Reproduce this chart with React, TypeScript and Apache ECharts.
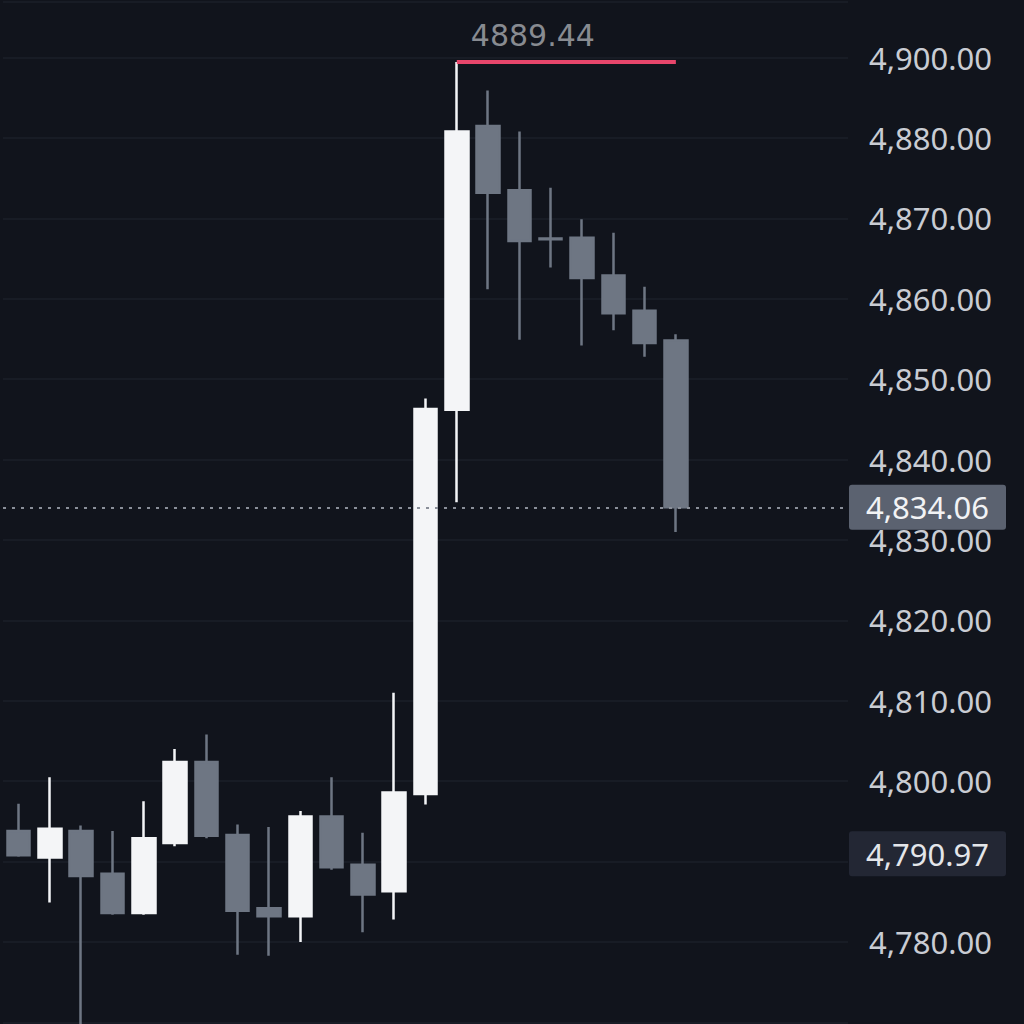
import React, { useEffect, useRef } from "react";
import * as echarts from "echarts";

// Candle categories (x axis is hidden in the reference)
const categories = [
  "09:30", "09:35", "09:40", "09:45", "09:50", "09:55", "10:00", "10:05",
  "10:10", "10:15", "10:20", "10:25", "10:30", "10:35", "10:40", "10:45",
  "10:50", "10:55", "11:00", "11:05", "11:10", "11:15",
];
// empty slots to the right of the last candle
const emptySlots = ["11:20", "11:25", "11:30", "11:35", "11:40"];

const opens = [
  4793.8, 4790.5, 4793.8, 4788.5, 4783.6, 4792.3, 4802.4, 4793.3, 4784.2, 4783.2, 4795.6,
  4789.6, 4786.3, 4798.4, 4846.2, 4881.5, 4873.5, 4867.5, 4867.6, 4862.9, 4858.5, 4854.8,
];
const closes = [
  4790.8, 4794.1, 4788.2, 4783.6, 4792.9, 4802.4, 4793.2, 4783.9, 4783.2, 4795.6, 4789.3,
  4785.9, 4798.6, 4846.3, 4880.8, 4873.2, 4867.2, 4867.4, 4862.6, 4858.2, 4854.5, 4834.06,
];
const lows = [
  4790.6, 4784.9, 4766.0, 4783.4, 4783.4, 4791.9, 4792.9, 4778.4, 4778.3, 4780.0, 4789.0,
  4781.2, 4782.8, 4797.1, 4834.7, 4861.2, 4854.9, 4863.9, 4854.2, 4856.1, 4852.8, 4831.0,
];
const highs = [
  4797.2, 4800.5, 4794.5, 4793.8, 4797.5, 4804.0, 4805.8, 4794.6, 4794.3, 4796.3, 4800.5,
  4793.6, 4811.0, 4847.6, 4889.44, 4885.9, 4880.8, 4873.8, 4869.9, 4868.2, 4861.5, 4855.6,
];

const refPrice = 4790.97;

// y axis tick labels as they appear on the reference
const tickValues = [4780, 4800, 4810, 4820, 4830, 4840, 4850, 4860, 4870, 4880, 4890];
const tickTexts = [
  "4,780.00", "4,800.00", "4,810.00", "4,820.00", "4,830.00", "4,840.00",
  "4,850.00", "4,860.00", "4,870.00", "4,880.00", "4,900.00",
];

const BG = "#11141c";
const UP = "#f4f5f7";
const DOWN = "#6e7683";
const LABEL_FONT = "Noto Sans";

const fmtPrice = (v: number) =>
  v.toLocaleString("en-US", { minimumFractionDigits: 2, maximumFractionDigits: 2 });

export default function App() {
  const ref = useRef<HTMLDivElement>(null);

  useEffect(() => {
    document.body.style.margin = "0";
    document.body.style.background = BG;
    if (!ref.current) return;
    const chart = echarts.init(ref.current, undefined, { renderer: "svg" });

    const ohlc = opens.map((o, i) => [o, closes[i], lows[i], highs[i]]);
    const maxHigh = Math.max(...highs);
    const maxIdx = highs.indexOf(maxHigh);
    const lastIdx = closes.length - 1;
    const lastClose = closes[lastIdx];

    const priceLabel = (bg: string, color: string, text: string) => ({
      show: true,
      position: "end",
      distance: 1,
      formatter: text,
      backgroundColor: bg,
      color,
      padding: [5, 17, 5, 17],
      fontSize: 31,
      lineHeight: 35,
      fontFamily: LABEL_FONT,
      borderRadius: 3,
    });

    const option = {
      backgroundColor: BG,
      animation: false,
      grid: { left: 3, right: 176, top: 1.3, bottom: 1.6, containLabel: false },
      xAxis: {
        type: "category",
        data: [...categories, ...emptySlots],
        boundaryGap: true,
        axisLine: { show: false },
        axisTick: { show: false },
        axisLabel: { show: false },
        splitLine: { show: false },
      },
      yAxis: {
        type: "value",
        position: "right",
        min: 4770,
        max: 4897,
        interval: 10,
        axisLine: { show: false },
        axisTick: { show: false },
        splitLine: { show: true, lineStyle: { color: "#1b1f29", width: 1.5 } },
        axisLabel: {
          margin: 21,
          color: "#c9ccd3",
          fontSize: 31,
          fontFamily: LABEL_FONT,
          formatter: (v: number) => {
            const i = tickValues.indexOf(Math.round(v));
            return i >= 0 && Math.abs(v - tickValues[i]) < 1e-6 ? tickTexts[i] : "";
          },
        },
      },
      series: [
        {
          type: "candlestick",
          data: ohlc,
          barWidth: 23,
          clip: true,
          itemStyle: {
            color: UP,
            color0: DOWN,
            borderColor: UP,
            borderColor0: DOWN,
            borderWidth: 2.5,
          },
          markLine: {
            silent: true,
            symbol: ["none", "none"],
            emphasis: { disabled: true },
            data: [
              [
                {
                  coord: [categories[maxIdx], maxHigh],
                  lineStyle: { color: "#e8466b", width: 4, type: "solid" },
                  label: {
                    show: true,
                    position: "insideStartTop",
                    distance: [14, 12],
                    formatter: maxHigh.toFixed(2),
                    color: "#888b91",
                    fontSize: 30,
                    fontFamily: "DejaVu Sans",
                  },
                },
                { coord: [categories[lastIdx], maxHigh] },
              ],
              {
                yAxis: lastClose,
                lineStyle: { color: "#8a8f99", width: 2, type: [3, 6] },
                label: priceLabel("#5b6270", "#f2f3f5", fmtPrice(lastClose)),
              },
              {
                yAxis: refPrice,
                lineStyle: { color: "rgba(0,0,0,0)", width: 0 },
                label: priceLabel("#232734", "#e4e6ea", fmtPrice(refPrice)),
              },
            ],
          },
        },
      ],
    };

    chart.setOption(option as any);
    return () => chart.dispose();
  }, []);

  return <div ref={ref} style={{ width: 1024, height: 1024 }} />;
}
